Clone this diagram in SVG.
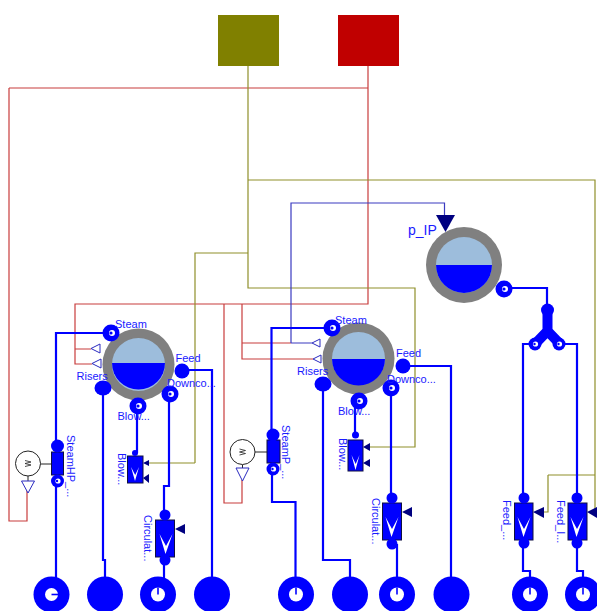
<svg xmlns="http://www.w3.org/2000/svg" width="597" height="611" viewBox="0 0 597 611">
<style>
text{font-family:"Liberation Sans",Arial,sans-serif;font-size:11px;fill:#1a1aff}
.r{stroke:#c83c3c;stroke-width:1.2;fill:none}
.o{stroke:#8f8f2a;stroke-width:1.2;fill:none}
.b{stroke:#0000ff;stroke-width:2.2;fill:none}
.n{stroke:#3a3ac0;stroke-width:1.2;fill:none}
.p{fill:#0000ff}
.h{fill:#fff}
.g{fill:#808080}
.l{fill:#9dbddc}
.c{fill:#0000ff;stroke:#101040;stroke-width:1}
.t{fill:#fff;stroke:#2a2ac0;stroke-width:1}
.a{fill:#000080}
.e{fill:#fff;stroke:#222;stroke-width:1}
.k{stroke:#222;stroke-width:1;fill:none}
.z{stroke:#222;stroke-width:.8;fill:none}
.v{fill:#fff}
</style>
<defs>
<g id="sinkO"><circle r="18" class="p"/><circle r="7" class="h"/><path d="M0 -7V0" stroke="#0000ff" stroke-width="1.6"/></g>
<g id="port"><circle r="8.5" class="p"/><circle cx="1" r="3" class="h"/><circle cx="0" r="1.6" class="p"/></g>
<g id="portS"><circle r="6.5" class="p"/><circle cx="0.5" r="2.6" class="h"/><circle cx="-0.5" r="1.2" class="p"/></g>
<path id="vee" d="M-6.500 -10L-0.500 10L6.500 -10L0 2Z" class="v"/>
</defs>
<g id="connectors">
<path class="r" d="M368 66V304H75V364H92M75 349H91M9 88H368M9 88V521H27V483M224 304V503H242V480M242 304V359H313M242 343H291"/>
<path class="o" d="M248 66V288H415V447H366M195 463V253H248M195 463H147M248 180H595V510M548 475H595M548 475V512H538"/>
<path class="n" d="M291 343V203H444.500V216M291 343H312"/>
<path class="b" d="M111 333H56V578M103 388V560H105V578M182 370H212V578M137 406V453M169 394V486H164V515M164 560V578"/>
<path class="b" d="M332 328H271.500V435M272 469V502H295.500V578M323 384V560H350V578M403 366H451V578M355 401V435M391 388V495H392M397 544V578"/>
<path class="b" d="M504 288H547V310M535 344H523V498M559 344H577V498M523 543V571H530V578M577 543V571H583V578"/>
</g>
<g id="sourceOlive"><rect x="218" y="15" width="61" height="51" fill="#808000"/></g>
<g id="sourceRed"><rect x="338" y="15" width="61" height="51" fill="#c00000"/></g>
<g id="drumHP">
<circle cx="138.500" cy="364.500" r="36" class="g"/>
<circle cx="138.500" cy="364.500" r="26.500" class="l"/>
<path d="M112 363H165A26.500 26.500 0 0 1 112 363Z" class="p"/>
<path d="M91 348.500L100 344V353Z M92 363.500L101 359V368Z" class="t"/>
<use href="#port" x="111" y="333"/>
<circle cx="182" cy="371" r="7.500" class="p"/>
<ellipse cx="103" cy="388" rx="8.500" ry="7.500" class="p"/>
<use href="#port" x="170" y="394"/>
<use href="#port" x="138" y="406"/>
<text x="115" y="328">Steam</text><text x="175.500" y="362">Feed</text><text x="167" y="387">Downco...</text><text x="76.500" y="380">Risers</text><text x="117.500" y="420">Blow...</text>
</g>
<g id="drumIP">
<circle cx="358.500" cy="358.500" r="36" class="g"/>
<circle cx="358.500" cy="358.500" r="26.500" class="l"/>
<path d="M332 359H385A26.500 26.500 0 0 1 332 359Z" class="p"/>
<path d="M312 343L320 339V347Z M313 359L321 355V363Z" class="t"/>
<use href="#port" x="332" y="328"/>
<circle cx="403" cy="366" r="7.500" class="p"/>
<ellipse cx="323" cy="384" rx="8.500" ry="7.500" class="p"/>
<use href="#port" x="391" y="388"/>
<use href="#port" x="359" y="401"/>
<text x="335" y="324">Steam</text><text x="396" y="357">Feed</text><text x="387" y="383">Downco...</text><text x="297" y="375">Risers</text><text x="338" y="415">Blow...</text>
</g>
<g id="drumLP">
<circle cx="464" cy="265" r="38" class="g"/>
<circle cx="464" cy="265" r="28" class="l"/>
<path d="M436 265H492A28 28 0 0 1 436 265Z" class="p"/>
<path d="M436 215H455L445.500 232Z" class="a"/>
<text x="408" y="235" style="font-size:14px">p_IP</text>
<use href="#port" x="504" y="289"/>
</g>
<g id="splitter">
<path d="M547.500 310V332M547.500 331L535 344M547.500 331L560 344" stroke="#0000ff" stroke-width="10" fill="none"/>
<circle cx="547.500" cy="310" r="6.500" class="p"/>
<use href="#portS" x="535" y="344"/><use href="#portS" x="559" y="344"/>
</g>
<g id="sensorHP">
<path class="k" d="M40 464H51M28 476V481"/>
<circle cx="28" cy="463.500" r="12.500" class="e"/>
<path class="z" d="M25 460.500L31 462L25 463.500L31 465L25 466.500"/>
<path d="M21.500 481H34.500L28 493Z" class="t"/>
</g>
<g id="sensorIP">
<path class="k" d="M255 452H267M242.500 465V468"/>
<circle cx="242.500" cy="452" r="12.500" class="e"/>
<path class="z" d="M239.500 449L245.500 450.500L239.500 452L245.500 453.500L239.500 455"/>
<path d="M236 468H249L242.500 481Z" class="t"/>
</g>
<g id="steamHP">
<rect x="51.500" y="452" width="12" height="23" class="c"/>
<circle cx="57.500" cy="446" r="6.500" class="p"/><use href="#portS" x="57.500" y="481"/>
<text transform="translate(67 435) rotate(90)">SteamHP_...</text>
</g>
<g id="steamIP">
<rect x="267" y="440" width="13" height="23" class="c"/>
<circle cx="273" cy="435" r="6.500" class="p"/><use href="#portS" x="273" y="469"/>
<text transform="translate(282 425) rotate(90)">SteamP_...</text>
</g>
<g id="blowHP">
<rect x="127.500" y="456" width="15.500" height="27" class="c"/>
<circle cx="135" cy="453" r="3" class="p"/>
<path d="M143 463L149 460V466Z M143 478L149 474V483Z" class="a"/>
<path d="M131 467L135 481L139 467L135.200 475Z" class="v"/>
<text transform="translate(118 453) rotate(90)">Blow...</text>
</g>
<g id="blowIP">
<rect x="348" y="440" width="15" height="31" class="c"/>
<circle cx="355.500" cy="435" r="3.500" class="p"/>
<path d="M363 447L370 443V451Z M363 463L370 459V467Z" class="a"/>
<path d="M351.500 455L355.500 470L359.500 455L355.700 464Z" class="v"/>
<text transform="translate(339 438) rotate(90)">Blow...</text>
</g>
<g id="circHP">
<rect x="155.500" y="520" width="19" height="37" class="c"/>
<circle cx="165" cy="515" r="5.500" class="p"/><circle cx="165" cy="560" r="5.500" class="p"/>
<path d="M175 529L185 524V534Z" class="a"/>
<use href="#vee" x="166" y="544"/>
<text transform="translate(144 515) rotate(90)">Circulat...</text>
</g>
<g id="circIP">
<rect x="382.500" y="503" width="19" height="37" class="c"/>
<circle cx="392" cy="498" r="5.500" class="p"/><circle cx="392" cy="544" r="5.500" class="p"/>
<path d="M402 512L412 507V517Z" class="a"/>
<use href="#vee" x="392" y="527"/>
<text transform="translate(372 498) rotate(90)">Circulat...</text>
</g>
<g id="feedLP1">
<rect x="514.500" y="503" width="18.500" height="37" class="c"/>
<circle cx="524" cy="498" r="5.500" class="p"/><circle cx="524" cy="543" r="5.500" class="p"/>
<path d="M533 512L544 507V518Z" class="a"/>
<use href="#vee" x="524" y="527"/>
<text transform="translate(503 500) rotate(90)">Feed_...</text>
</g>
<g id="feedLP2">
<rect x="568" y="503" width="19" height="37" class="c"/>
<circle cx="577" cy="498" r="5.500" class="p"/><circle cx="577" cy="543" r="5.500" class="p"/>
<path d="M587 512L597 507V518Z" class="a"/>
<use href="#vee" x="577" y="527"/>
<text transform="translate(557 500) rotate(90)">Feed_I...</text>
</g>
<g id="sink1"><circle cx="51.500" cy="594.500" r="18" class="p"/><circle cx="51.500" cy="594.500" r="6.500" class="h"/><path d="M51.500 594.500H58" stroke="#0000ff" stroke-width="1.600"/></g>
<g id="sink2"><circle cx="105" cy="594.500" r="18" class="p"/></g>
<g id="sink3"><use href="#sinkO" x="158" y="594.500"/></g>
<g id="sink4"><circle cx="212" cy="594.500" r="18" class="p"/></g>
<g id="sink5"><use href="#sinkO" x="296" y="594.500"/></g>
<g id="sink6"><circle cx="350" cy="594.500" r="18" class="p"/></g>
<g id="sink7"><use href="#sinkO" x="397" y="594.500"/></g>
<g id="sink8"><circle cx="451.500" cy="594.500" r="18" class="p"/></g>
<g id="sink9"><use href="#sinkO" x="530" y="594.500"/></g>
<g id="sink10"><use href="#sinkO" x="583" y="594.500"/></g>
</svg>
